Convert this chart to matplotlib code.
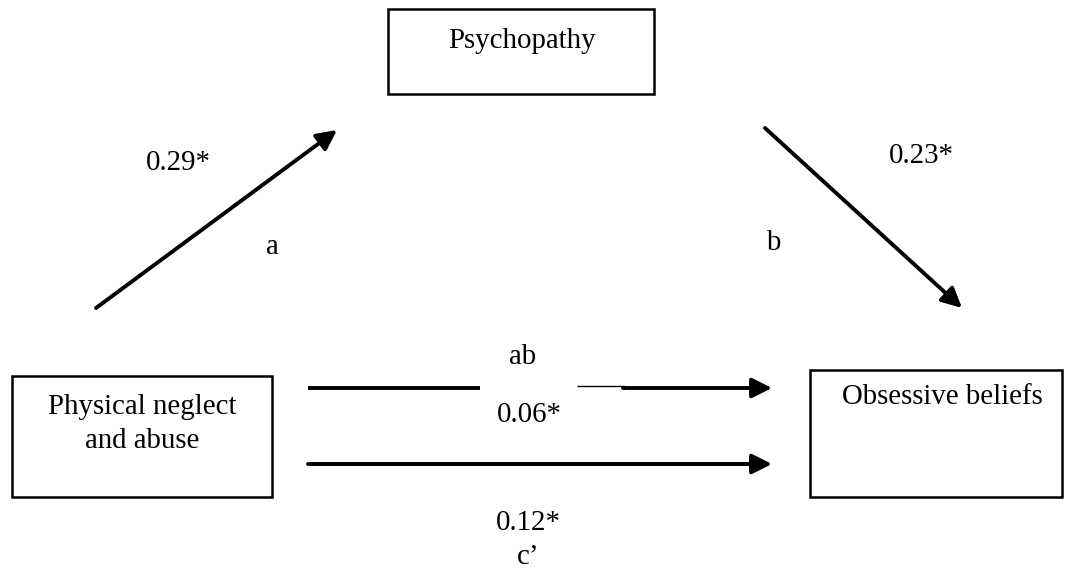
import matplotlib
matplotlib.use("Agg")
import matplotlib.pyplot as plt
from matplotlib.patches import Rectangle

# ---- data ----
node_labels = ["Psychopathy", "Physical neglect\nand abuse", "Obsessive beliefs"]
path_names = ["a", "b", "ab", "c\u2019"]
path_coefs = ["0.29*", "0.23*", "0.06*", "0.12*"]

# ---- layout (pixel coordinates) ----
W, H = 1066, 568
fig = plt.figure(figsize=(W / 100, H / 100), dpi=100)
ax = fig.add_axes([0, 0, 1, 1])
ax.set_xlim(0, W)
ax.set_ylim(H, 0)
ax.axis("off")

font = dict(family="Liberation Serif", size=20.8, color="black")

boxes = [(388, 9, 266, 85), (12, 376, 260, 121), (810, 370, 252, 127)]
label_pos = [(522, 41), (142, 424), (942, 397)]
for (x, y, w, h), lab, (tx, ty) in zip(boxes, node_labels, label_pos):
    ax.add_patch(Rectangle((x, y), w, h, fill=False, lw=1.8, ec="black"))
    ax.text(tx, ty, lab, ha="center", va="center", linespacing=1.35, **font)

def arrow(x0, y0, x1, y1):
    ax.annotate("", xy=(x1, y1), xytext=(x0, y0),
                arrowprops=dict(arrowstyle="-|>,head_length=0.6,head_width=0.3",
                                lw=2.8, color="black", mutation_scale=20,
                                shrinkA=0, shrinkB=0))

# a path
arrow(96, 308, 337, 130)
# b path
arrow(765, 128, 962, 308)
# ab path (broken line)
ax.plot([308, 480], [388, 388], color="black", lw=2.8, solid_capstyle="butt")
ax.plot([577, 625], [386, 386], color="black", lw=1.0, solid_capstyle="butt")
arrow(623, 388, 772, 388)
# c' path
arrow(308, 464, 772, 464)

text_pos_names = [(272, 247), (773, 243), (523, 357), (528, 557)]
text_pos_coefs = [(178, 163), (921, 156), (529, 415), (528, 523)]
for s, (x, y) in zip(path_names, text_pos_names):
    ax.text(x, y, s, ha="center", va="center", **font)
for s, (x, y) in zip(path_coefs, text_pos_coefs):
    ax.text(x, y, s, ha="center", va="center", **font)

fig.savefig("out.png", dpi=100, facecolor="white")
